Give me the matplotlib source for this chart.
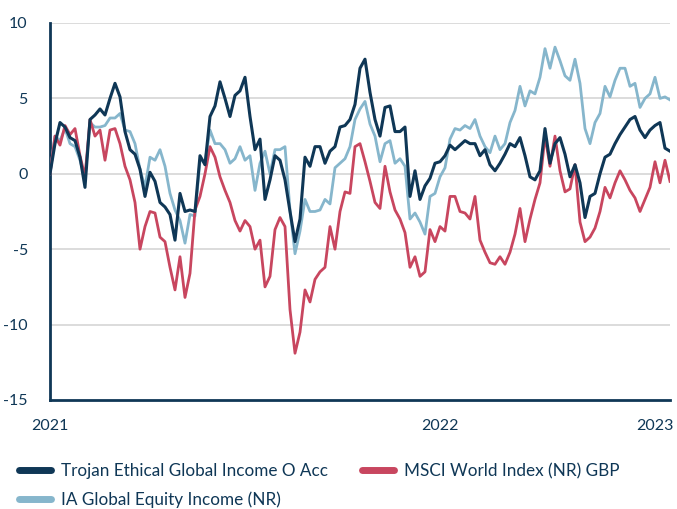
import matplotlib
matplotlib.use("Agg")
import matplotlib.pyplot as plt
from matplotlib.lines import Line2D
import numpy as np

plt.rcParams['font.family'] = ['Lato', 'DejaVu Sans']

# weekly % performance
trojan = [0.0, 2.0, 3.4, 3.1, 2.4, 2.2, 1.1, -0.9, 3.6, 3.9,
          4.3, 3.9, 5.0, 6.0, 5.1, 2.8, 1.6, 1.3, 0.3, -1.5,
          0.1, -0.5, -1.9, -2.2, -2.7, -4.4, -1.3, -2.5, -2.4, -2.5,
          1.2, 0.6, 3.8, 4.5, 6.1, 5.0, 3.8, 5.2, 5.5, 6.4,
          3.8, 1.6, 2.3, -1.7, -0.4, 1.2, 0.9, -0.4, -2.5, -4.5,
          -3.0, 1.1, 0.5, 1.8, 1.8, 0.7, 1.5, 1.8, 3.1, 3.2,
          3.6, 4.6, 7.0, 7.6, 5.4, 3.6, 2.5, 4.4, 4.5, 2.8,
          2.8, 3.1, -1.5, 0.2, -1.7, -0.8, -0.3, 0.7, 0.8, 1.2,
          1.9, 1.6, 1.9, 2.2, 2.0, 2.0, 1.2, 1.6, 0.6, 0.2,
          0.7, 1.3, 2.0, 1.8, 2.4, 1.2, -0.2, -0.4, 0.2, 3.0,
          0.7, 2.0, 2.4, 1.3, -0.2, 0.6, -0.6, -2.9, -1.5, -1.3,
          0.0, 1.1, 1.3, 2.0, 2.6, 3.1, 3.6, 3.8, 2.9, 2.4,
          2.9, 3.2, 3.4, 1.7, 1.5]

msci = [0.0, 2.5, 1.9, 3.2, 2.6, 3.0, 1.2, -0.2, 3.6, 2.5,
        2.9, 0.9, 2.9, 3.0, 2.0, 0.5, -0.4, -1.9, -5.0, -3.5,
        -2.5, -2.6, -4.2, -4.5, -6.2, -7.7, -5.5, -8.2, -6.6, -2.4,
        -1.5, 0.0, 1.8, 1.1, -0.2, -1.1, -1.9, -3.1, -3.8, -3.1,
        -3.5, -5.0, -4.4, -7.5, -6.8, -3.7, -2.9, -3.5, -9.0, -11.9,
        -10.5, -7.7, -8.5, -7.0, -6.5, -6.2, -3.5, -5.0, -2.5, -1.2,
        -1.3, 1.8, 2.0, 0.8, -0.5, -1.9, -2.3, 0.5, -1.2, -2.4,
        -3.0, -3.9, -6.2, -5.5, -6.8, -6.5, -3.7, -4.5, -3.5, -3.8,
        -1.5, -1.5, -2.5, -2.6, -3.0, -1.5, -4.4, -5.2, -5.9, -6.0,
        -5.5, -6.0, -5.2, -4.0, -2.3, -4.5, -3.0, -1.7, -0.6, 2.5,
        0.5, 2.5, 0.2, -1.2, -1.0, 0.6, -3.2, -4.5, -4.2, -3.6,
        -2.5, -0.9, -1.6, -0.6, 0.2, -0.4, -1.1, -1.6, -2.5, -1.7,
        -0.9, 0.8, -0.6, 0.9, -0.5]

ia = [0.0, 2.5, 2.2, 3.0, 2.0, 1.8, 0.9, -0.3, 3.4, 3.1,
      3.1, 3.2, 3.7, 3.7, 4.0, 2.9, 2.8, 2.0, 0.3, -0.9,
      1.1, 0.9, 1.6, 0.5, -1.3, -2.4, -3.1, -4.6, -2.7, -2.8,
      0.9, 0.8, 2.9, 2.0, 2.0, 1.6, 0.7, 1.0, 1.8, 0.9,
      1.2, -1.1, 0.7, 1.5, 0.0, 1.6, 1.6, 1.8, -2.4, -5.3,
      -3.8, -1.7, -2.5, -2.5, -2.4, -1.7, -2.0, 0.4, 0.7, 1.0,
      1.8, 3.6, 4.3, 4.8, 3.3, 2.5, 0.8, 2.0, 2.2, 0.7,
      1.0, 0.5, -3.0, -2.6, -3.2, -4.0, -1.5, -1.3, -0.2, 0.4,
      2.3, 3.0, 2.9, 3.2, 3.0, 3.6, 2.5, 1.8, 1.4, 2.5,
      1.6, 2.0, 3.4, 4.2, 5.8, 4.5, 5.5, 5.3, 6.4, 8.3,
      7.0, 8.4, 7.5, 6.5, 6.2, 7.6, 6.0, 3.0, 2.0, 3.4,
      4.0, 5.8, 5.1, 6.2, 7.0, 7.0, 5.8, 6.0, 4.4, 5.0,
      5.3, 6.4, 5.0, 5.1, 4.9]

year_labels = ['2021', '2022', '2023']
year_pos = [0, 78, 121]

names = ['Trojan Ethical Global Income O Acc', 'MSCI World Index (NR) GBP',
         'IA Global Equity Income (NR)']
navy = '#0f3756'
red = '#c8465f'
blue = '#86b6cc'

fig = plt.figure(figsize=(6.77, 5.09), dpi=100)
ax = fig.add_axes([50/677, 1 - 400/509, 620/677, 377/509])

x = np.arange(len(trojan))
ax.plot(x, ia, color=blue, lw=2.0, zorder=3)
ax.plot(x, msci, color=red, lw=2.0, zorder=4)
ax.plot(x, trojan, color=navy, lw=2.2, zorder=5)

ax.set_xlim(0, len(trojan) - 1)
ax.set_ylim(-15, 10)
ax.set_yticks([-15, -10, -5, 0, 5, 10])
ax.set_yticklabels(['-15', '-10', '-5', '0', '5', '10'])
ax.set_xticks(year_pos)
ax.set_xticklabels(year_labels)
for y in [-10, -5, 0, 5, 10]:
    ax.axhline(y, color='#d9d9d9', lw=1.3, zorder=1)

for s in ['top', 'right']:
    ax.spines[s].set_visible(False)
for s in ['left', 'bottom']:
    ax.spines[s].set_color(navy)
    ax.spines[s].set_linewidth(2.0)
ax.tick_params(length=0, labelsize=11.5, labelcolor=navy)
ax.tick_params(axis='y', pad=16)
ax.tick_params(axis='x', pad=14)

# legend fills column by column, so order it to read row by row
cols = [navy, blue, red]
labels = [names[0], names[2], names[1]]
handles = [Line2D([], [], color=c, lw=5, solid_capstyle='round') for c in cols]
leg = fig.legend(handles, labels, loc='upper left', bbox_to_anchor=(12/677, 1 - 456/509),
                 ncol=2, frameon=False, fontsize=12.3, handlelength=1.9,
                 handletextpad=0.55, columnspacing=2.0, labelspacing=0.75,
                 borderaxespad=0)
for t in leg.get_texts():
    t.set_color(navy)

fig.savefig('out.png', dpi=100)
